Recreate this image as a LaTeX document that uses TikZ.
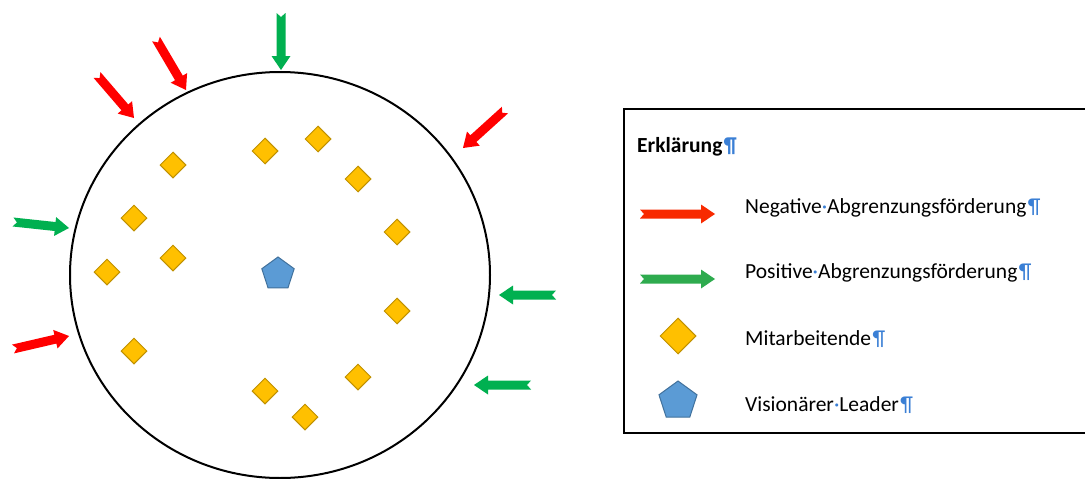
\documentclass[tikz,border=0pt]{standalone}
\usepackage{fontspec}
\setmainfont{Carlito}
\usetikzlibrary{calc,shapes.geometric}
\definecolor{arred}{HTML}{FF0000}
\definecolor{argreen}{HTML}{00B050}
\definecolor{legred}{HTML}{F82A00}
\definecolor{leggreen}{HTML}{2EAB4E}
\definecolor{dfill}{HTML}{FFC000}
\definecolor{ddraw}{HTML}{BF9000}
\definecolor{pfill}{HTML}{5B9BD5}
\definecolor{pdraw}{HTML}{41719C}
\definecolor{pilcrow}{HTML}{3A7FD5}
\newcommand\bigarrow[3]{%
  \coordinate (#2-b) at ($(#3)!14pt!(#2)$);
  \coordinate (#2-n) at ($(#2)!4pt!(#3)$);
  \fill[#1] ($(#2)!4.5pt!90:(#3)$) -- ($(#2-b)!4.5pt!90:(#3)$) -- ($(#2-b)!9.5pt!90:(#3)$)
    -- (#3) -- ($(#2-b)!9.5pt!-90:(#3)$) -- ($(#2-b)!4.5pt!-90:(#3)$)
    -- ($(#2)!4.5pt!-90:(#3)$) -- (#2-n) -- cycle;}
\newcommand\pil{\kern1.5pt{\color{pilcrow}¶}}
\newcommand\mdot{{\color{pilcrow}·}}
\tikzset{
  worker/.style={diamond, aspect=1, minimum size=26pt, inner sep=0pt, fill=dfill, draw=ddraw, line width=1pt},
  leader/.style={regular polygon, regular polygon sides=5, minimum size=34pt, inner sep=0pt, fill=pfill, draw=pdraw, line width=1pt},
  legtext/.style={anchor=west, inner sep=0pt, font=\fontsize{21.5}{24}\selectfont}
}
\begin{document}
\begin{tikzpicture}[x=1pt,y=-1pt]
\clip (0,0) rectangle (1085,479);
\fill[white] (0,0) rectangle (1085,479);
% big circle
\draw[line width=2pt] (280,275) ellipse [x radius=210, y radius=203];
% workers
\foreach \i/\x/\y in {1/173/165, 2/265/151, 3/318/139, 4/358/179, 5/134/218, 6/397/232, 7/173/258, 8/107/272, 9/397/311, 10/134/351, 11/358/377, 12/265/391, 13/305/417}
  \node[worker] (w\i) at (\x,\y) {};
\node[leader] (lead) at (278,274) {};
% arrows around the circle
\coordinate (t1) at (97,75);   \coordinate (h1) at (134,118);
\coordinate (t2) at (156,39);  \coordinate (h2) at (186,90);
\coordinate (t3) at (281,13);  \coordinate (h3) at (281,70);
\coordinate (t4) at (505,110); \coordinate (h4) at (463,148);
\coordinate (t5) at (13,222);  \coordinate (h5) at (69,228);
\coordinate (t6) at (13,349);  \coordinate (h6) at (69,336);
\coordinate (t7) at (556,295); \coordinate (h7) at (499,295);
\coordinate (t8) at (531,385); \coordinate (h8) at (474,385);
\bigarrow{arred}{t1}{h1}
\bigarrow{arred}{t2}{h2}
\bigarrow{argreen}{t3}{h3}
\bigarrow{arred}{t4}{h4}
\bigarrow{argreen}{t5}{h5}
\bigarrow{arred}{t6}{h6}
\bigarrow{argreen}{t7}{h7}
\bigarrow{argreen}{t8}{h8}
% legend
\draw[line width=1.5pt] (624,109) rectangle (1092,433);
\node[legtext, font=\fontsize{21.5}{24}\selectfont\bfseries] (title) at (637,147) {Erklärung\pil};
\coordinate (lt1) at (640,214); \coordinate (lh1) at (715,214);
\coordinate (lt2) at (640,279); \coordinate (lh2) at (715,279);
\bigarrow{legred}{lt1}{lh1}
\bigarrow{leggreen}{lt2}{lh2}
\node[worker, minimum size=36pt] (lw) at (678,336) {};
\node[leader, minimum size=40pt] (ll) at (678,401) {};
\node[legtext] (n1) at (745,208) {Negative\mdot Abgrenzungsförderung\pil};
\node[legtext] (n2) at (745,273) {Positive\mdot Abgrenzungsförderung\pil};
\node[legtext] (n3) at (745,339) {Mitarbeitende\pil};
\node[legtext] (n4) at (745,405) {Visionärer\mdot Leader\pil};
\end{tikzpicture}
\end{document}
